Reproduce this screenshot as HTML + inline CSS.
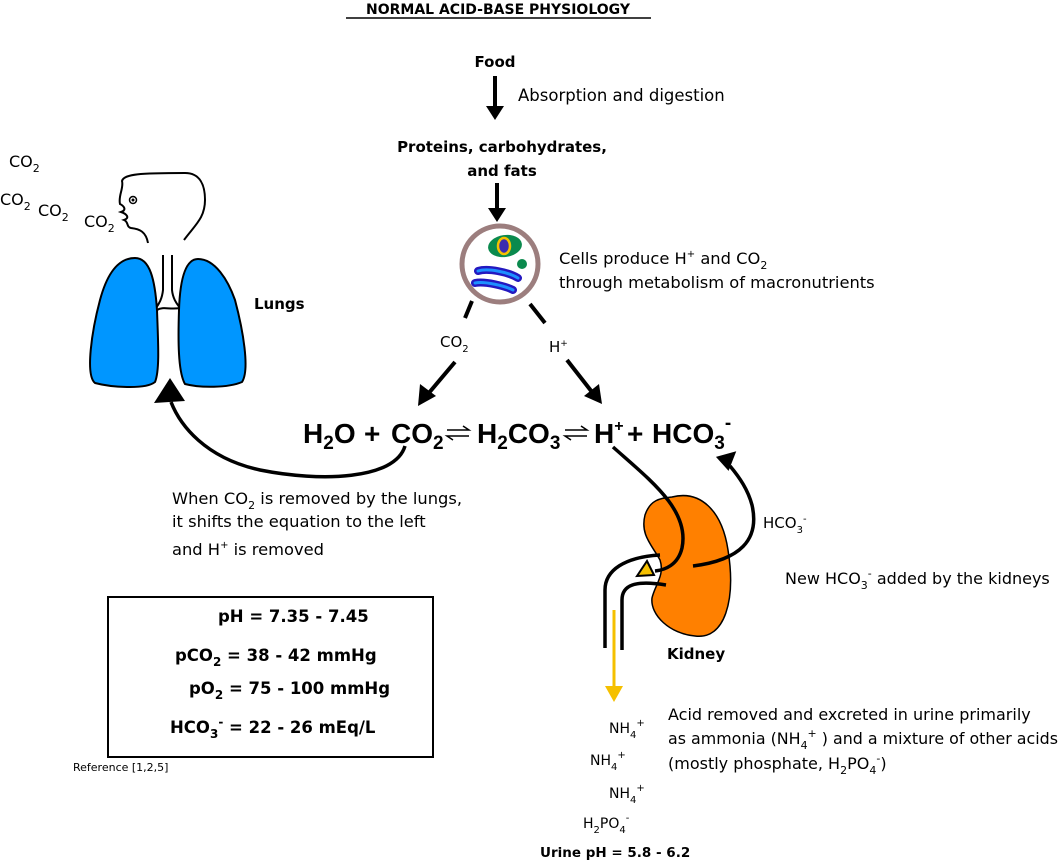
<!DOCTYPE html>
<html><head><meta charset="utf-8"><style>
html,body{margin:0;padding:0;background:#fff}
svg{display:block;font-family:"DejaVu Sans","Liberation Sans",sans-serif}
</style></head><body>
<svg width="1062" height="860" viewBox="0 0 1062 860" xmlns="http://www.w3.org/2000/svg">
<!-- title -->
<text x="498" y="14" font-size="14" font-weight="bold" text-anchor="middle">NORMAL ACID-BASE PHYSIOLOGY</text>
<line x1="346" y1="18" x2="651" y2="18" stroke="#000" stroke-width="1.5"/>

<text x="495" y="67" font-size="15" font-weight="bold" text-anchor="middle">Food</text>
<line x1="495" y1="76" x2="495" y2="108" stroke="#000" stroke-width="4"/>
<path d="M486,106 L504,106 L495,120z"/>
<text x="518" y="101" font-size="16.5">Absorption and digestion</text>
<text x="502" y="152" font-size="15" font-weight="bold" text-anchor="middle">Proteins, carbohydrates,</text>
<text x="502" y="176" font-size="15" font-weight="bold" text-anchor="middle">and fats</text>
<line x1="497" y1="183" x2="497" y2="210" stroke="#000" stroke-width="4"/>
<path d="M488,208 L506,208 L497,222z"/>

<!-- cell -->
<circle cx="500" cy="264" r="38" fill="#fff" stroke="#9c7e7e" stroke-width="5"/>
<ellipse cx="505" cy="246" rx="17" ry="11" fill="#0b8a4e" transform="rotate(-8 505 246)"/>
<ellipse cx="504" cy="246" rx="6" ry="8" fill="#3a2bb0" stroke="#f5c000" stroke-width="2.5"/>
<circle cx="522" cy="264" r="5" fill="#0b8a4e"/>
<path d="M478,271 C488,268 508,272 518,278" stroke="#2418c0" stroke-width="8" stroke-linecap="round" fill="none"/>
<path d="M478,271 C488,268 508,272 518,278" stroke="#1e90ff" stroke-width="3" stroke-linecap="round" fill="none"/>
<path d="M475,283 C485,281 505,286 513,290" stroke="#2418c0" stroke-width="8" stroke-linecap="round" fill="none"/>
<path d="M475,283 C485,281 505,286 513,290" stroke="#1e90ff" stroke-width="3" stroke-linecap="round" fill="none"/>
<text x="559" y="264" font-size="16.3">Cells produce H<tspan font-size="10" dy="-7">+</tspan><tspan dy="7"> and CO</tspan><tspan font-size="11" dy="5">2</tspan></text>
<text x="559" y="288" font-size="16.3">through metabolism of macronutrients</text>

<line x1="472" y1="301" x2="465" y2="318" stroke="#000" stroke-width="4"/>
<line x1="530" y1="304" x2="545" y2="323" stroke="#000" stroke-width="4"/>
<text x="440" y="347" font-size="15">CO<tspan font-size="10" dy="5">2</tspan></text>
<text x="549" y="352" font-size="15">H<tspan font-size="9" dy="-6">+</tspan></text>
<line x1="455" y1="362" x2="428" y2="394" stroke="#000" stroke-width="4"/>
<path d="M418,406 L420,384 L436,396z"/>
<line x1="567" y1="360" x2="592" y2="392" stroke="#000" stroke-width="4"/>
<path d="M602,404 L584,396 L599,384z"/>

<!-- equation -->
<g font-size="28" font-weight="bold" font-family="Liberation Sans, sans-serif">
<text x="303" y="443">H<tspan font-size="19" dy="6">2</tspan><tspan dy="-6">O</tspan></text>
<text x="364" y="443">+</text>
<text x="391" y="443">CO<tspan font-size="19" dy="6">2</tspan></text>
<text x="477" y="443">H<tspan font-size="19" dy="6">2</tspan><tspan dy="-6">CO</tspan><tspan font-size="19" dy="6">3</tspan></text>
<text x="594" y="443">H<tspan font-size="16" dy="-12">+</tspan></text>
<text x="627" y="443">+</text>
<text x="652" y="443">HCO<tspan font-size="19" dy="6">3</tspan><tspan font-size="19" dy="-20">-</tspan></text>
</g>
<g stroke="#000" stroke-width="1.5" fill="none">
<path d="M447,430 H469 l-6,-4"/><path d="M469,436 H447 l6,4"/>
<path d="M565,430 H587 l-6,-4"/><path d="M587,436 H565 l6,4"/>
</g>

<!-- lungs curved arrow -->
<path d="M405,446 C395,480 320,482 260,470 C205,458 180,425 171,402" stroke="#000" stroke-width="3.5" fill="none"/>
<path d="M154,403 L170,378 L185,401z"/>
<text x="172" y="504" font-size="16.3">When CO<tspan font-size="11" dy="5">2</tspan><tspan dy="-5"> is removed by the lungs,</tspan></text>
<text x="172" y="527" font-size="16.3">it shifts the equation to the left</text>
<text x="172" y="555" font-size="16.3">and H<tspan font-size="10" dy="-7">+</tspan><tspan dy="7"> is removed</tspan></text>

<!-- lungs and head -->
<g stroke="#000" stroke-width="2" fill="none">
<path d="M148,243 C146,232 140,229 131,228 C126,227 129,222 124,220 C130,218 127,214 121,212 C127,210 124,206 120,204 C118,196 124,188 122,181 C124,174 140,173 185,173 C200,173 205,185 205,200 C205,218 195,225 184,240"/>
<path d="M163,255 V290 C162,300 158,305 156,308 M172,255 V290 C173,300 178,305 180,308 M157,310 C163,306 170,310 180,308"/>
</g>
<circle cx="133" cy="200" r="3.5" fill="none" stroke="#000" stroke-width="1.5"/><circle cx="133" cy="200" r="1.5"/>
<path d="M135,258 C150,258 155,280 157,310 C158,340 160,370 155,382 C145,390 110,387 95,383 C85,375 92,330 100,300 C108,270 120,258 135,258z" fill="#0096ff" stroke="#000" stroke-width="2"/>
<path d="M198,259 C215,259 228,280 235,300 C243,330 250,370 242,382 C228,388 200,388 185,384 C178,372 178,340 179,310 C180,280 185,259 198,259z" fill="#0096ff" stroke="#000" stroke-width="2"/>
<text x="254" y="309" font-size="15" font-weight="bold">Lungs</text>
<g font-size="16">
<text x="9" y="167">CO<tspan font-size="11" dy="5">2</tspan></text>
<text x="0" y="205">CO<tspan font-size="11" dy="5">2</tspan></text>
<text x="38" y="216">CO<tspan font-size="11" dy="5">2</tspan></text>
<text x="84" y="227">CO<tspan font-size="11" dy="5">2</tspan></text>
</g>

<!-- box -->
<rect x="108" y="597" width="325" height="160" fill="#fff" stroke="#000" stroke-width="2"/>
<g font-size="16.5" font-weight="bold">
<text x="218" y="622">pH = 7.35 - 7.45</text>
<text x="175" y="661">pCO<tspan font-size="12" dy="5">2</tspan><tspan dy="-5"> = 38 - 42 mmHg</tspan></text>
<text x="189" y="694">pO<tspan font-size="12" dy="5">2</tspan><tspan dy="-5"> = 75 - 100 mmHg</tspan></text>
<text x="170" y="733">HCO<tspan font-size="12" dy="5">3</tspan><tspan font-size="12" dy="-12">-</tspan><tspan dy="7"> = 22 - 26 mEq/L</tspan></text>
</g>
<text x="73" y="771" font-size="11">Reference [1,2,5]</text>

<!-- kidney -->
<path d="M672,497 C700,490 722,510 728,550 C736,600 725,640 695,636 C670,634 650,615 652,598 C655,585 665,575 660,560 C652,545 640,535 645,515 C650,500 660,498 672,497z" fill="#ff8000" stroke="#000" stroke-width="1.5"/>
<g stroke="#000" stroke-width="3.5" fill="none">
<path d="M613,447 C650,480 690,510 682,548 C678,565 665,570 655,571"/>
<path d="M693,566 C740,560 760,540 752,505 C748,490 740,478 730,466"/>
<path d="M605,648 V590 C605,570 625,557 660,555"/>
<path d="M622,650 V600 C622,585 635,580 666,585"/>
</g>
<path d="M637,576 L647,561 L654,575z" fill="#f5c000" stroke="#000" stroke-width="2"/>
<path d="M717,455 L738,453 L727,471z" transform="rotate(-10 727 462)"/>
<line x1="614" y1="610" x2="614" y2="688" stroke="#f5c000" stroke-width="3"/>
<path d="M605,686 L623,686 L614,702z" fill="#f5c000"/>
<text x="667" y="659" font-size="15" font-weight="bold">Kidney</text>
<text x="763" y="528" font-size="15">HCO<tspan font-size="10" dy="5">3</tspan><tspan font-size="10" dy="-11">-</tspan></text>
<text x="785" y="584" font-size="16">New HCO<tspan font-size="11" dy="5">3</tspan><tspan font-size="11" dy="-12">-</tspan><tspan dy="7"> added by the kidneys</tspan></text>
<text x="668" y="720" font-size="16">Acid removed and excreted in urine primarily</text>
<text x="668" y="744" font-size="16" textLength="390" lengthAdjust="spacingAndGlyphs">as ammonia (NH<tspan font-size="11" dy="5">4</tspan><tspan font-size="11" dy="-12">+</tspan><tspan dy="7"> ) and a mixture of other acids</tspan></text>
<text x="668" y="769" font-size="16">(mostly phosphate, H<tspan font-size="11" dy="5">2</tspan><tspan dy="-5">PO</tspan><tspan font-size="11" dy="5">4</tspan><tspan font-size="11" dy="-12">-</tspan><tspan dy="7">)</tspan></text>
<g font-size="14">
<text x="609" y="733">NH<tspan font-size="10" dy="5">4</tspan><tspan font-size="10" dy="-12">+</tspan></text>
<text x="590" y="765">NH<tspan font-size="10" dy="5">4</tspan><tspan font-size="10" dy="-12">+</tspan></text>
<text x="609" y="798">NH<tspan font-size="10" dy="5">4</tspan><tspan font-size="10" dy="-12">+</tspan></text>
<text x="583" y="828">H<tspan font-size="10" dy="5">2</tspan><tspan dy="-5">PO</tspan><tspan font-size="10" dy="5">4</tspan><tspan font-size="10" dy="-12">-</tspan></text>
</g>
<text x="540" y="857" font-size="13.5" font-weight="bold">Urine pH = 5.8 - 6.2</text>
</svg>
</body></html>
